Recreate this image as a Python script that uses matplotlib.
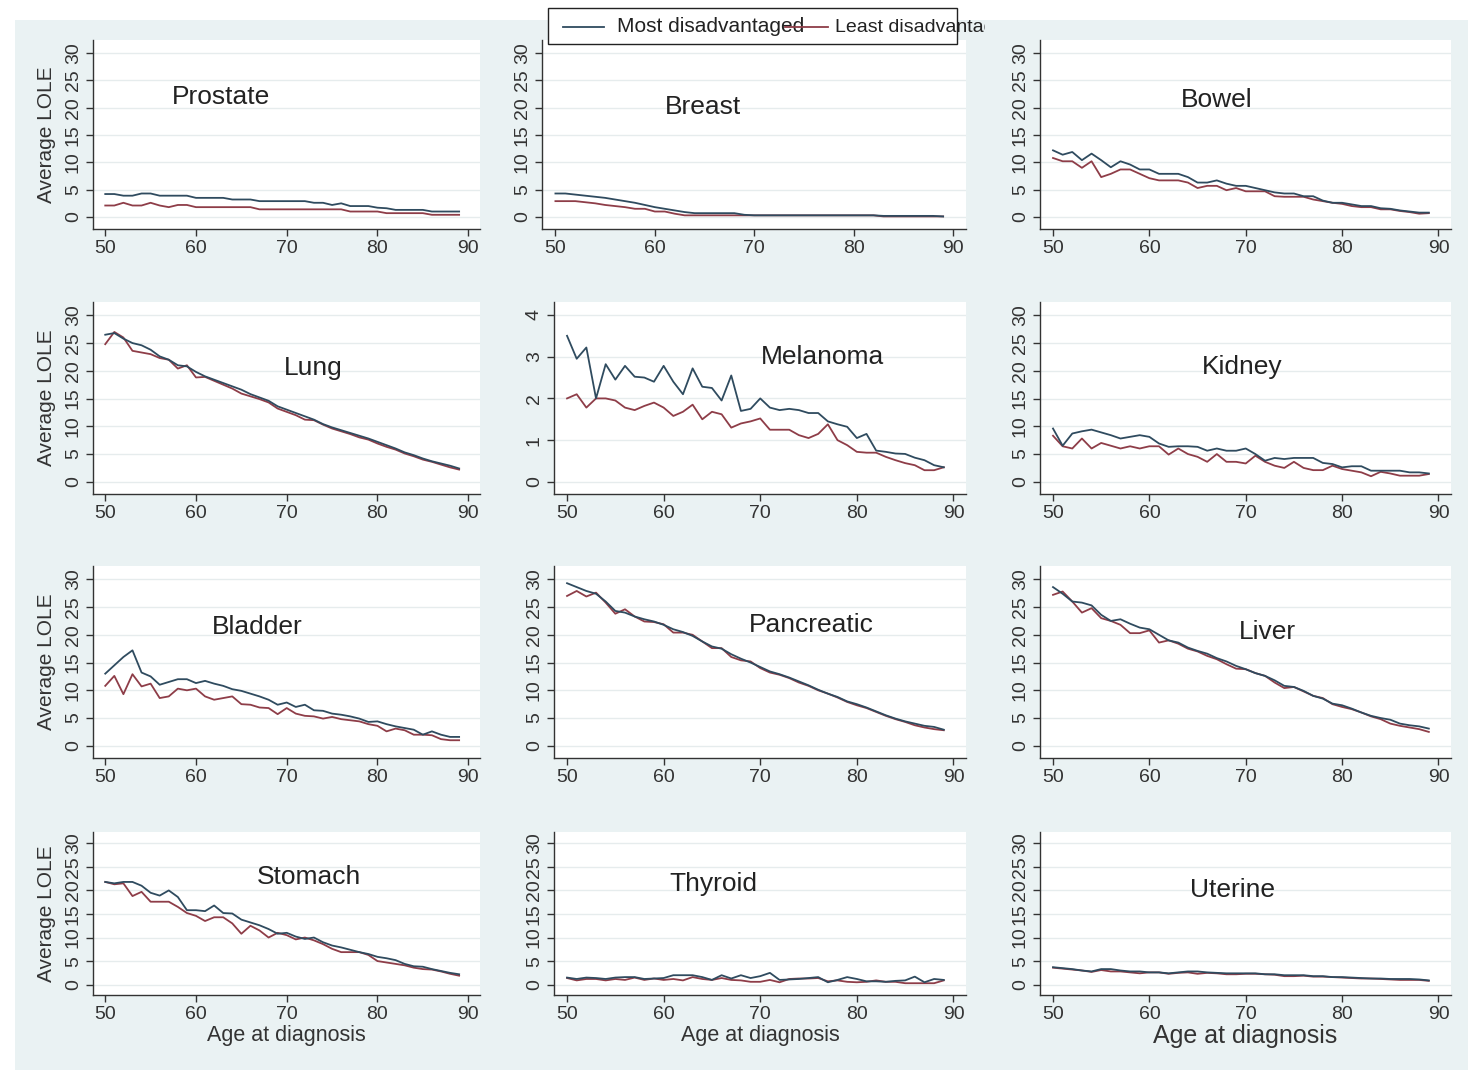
import numpy as np
import matplotlib
matplotlib.use("Agg")
import matplotlib.pyplot as plt
from matplotlib.patches import Rectangle
from matplotlib.lines import Line2D

plt.rcParams['font.family'] = ['Liberation Sans', 'DejaVu Sans']

ages = np.arange(50, 90)

prostate_most = [4.2, 4.2, 3.9, 3.9, 4.3, 4.3, 3.9, 3.9, 3.9, 3.9,
                 3.5, 3.5, 3.5, 3.5, 3.2, 3.2, 3.2, 2.9, 2.9, 2.9,
                 2.9, 2.9, 2.9, 2.6, 2.6, 2.2, 2.5, 2.0, 2.0, 2.0,
                 1.7, 1.6, 1.3, 1.3, 1.3, 1.3, 1.0, 1.0, 1.0, 1.0]
prostate_least = [2.1, 2.1, 2.6, 2.1, 2.1, 2.6, 2.1, 1.8, 2.2, 2.2,
                  1.8, 1.8, 1.8, 1.8, 1.8, 1.8, 1.8, 1.4, 1.4, 1.4,
                  1.4, 1.4, 1.4, 1.4, 1.4, 1.4, 1.4, 1.0, 1.0, 1.0,
                  1.0, 0.7, 0.7, 0.7, 0.7, 0.7, 0.4, 0.4, 0.4, 0.4]

breast_most = [4.3, 4.3, 4.1, 3.9, 3.7, 3.5, 3.2, 2.9, 2.6, 2.2,
               1.8, 1.5, 1.2, 0.9, 0.7, 0.7, 0.7, 0.7, 0.7, 0.4,
               0.3, 0.3, 0.3, 0.3, 0.3, 0.3, 0.3, 0.3, 0.3, 0.3,
               0.3, 0.3, 0.3, 0.2, 0.2, 0.2, 0.2, 0.2, 0.2, 0.1]
breast_least = [2.9, 2.9, 2.9, 2.7, 2.5, 2.2, 2.0, 1.8, 1.5, 1.5,
                1.0, 1.0, 0.6, 0.3, 0.3, 0.3, 0.3, 0.3, 0.3, 0.3,
                0.3, 0.3, 0.3, 0.3, 0.3, 0.3, 0.3, 0.3, 0.3, 0.3,
                0.3, 0.3, 0.3, 0.1, 0.1, 0.1, 0.1, 0.1, 0.1, 0.1]

bowel_most = [12.2, 11.4, 11.9, 10.4, 11.6, 10.4, 9.1, 10.2, 9.6, 8.7,
              8.7, 7.9, 7.9, 7.9, 7.3, 6.3, 6.3, 6.7, 6.1, 5.7,
              5.7, 5.3, 4.9, 4.5, 4.3, 4.3, 3.8, 3.8, 3.0, 2.6,
              2.6, 2.3, 2.0, 2.0, 1.6, 1.5, 1.2, 1.0, 0.8, 0.8]
bowel_least = [10.8, 10.2, 10.2, 9.0, 10.2, 7.3, 7.9, 8.7, 8.7, 7.9,
               7.1, 6.7, 6.7, 6.7, 6.3, 5.3, 5.7, 5.7, 4.9, 5.3,
               4.7, 4.7, 4.7, 3.8, 3.7, 3.7, 3.7, 3.2, 2.9, 2.6,
               2.4, 2.0, 1.8, 1.8, 1.4, 1.4, 1.1, 0.9, 0.6, 0.7]

lung_most = [26.5, 26.8, 25.8, 25.0, 24.6, 23.8, 22.6, 22.0, 21.0, 20.8,
             19.8, 19.0, 18.4, 17.8, 17.2, 16.6, 15.8, 15.2, 14.6, 13.6,
             13.0, 12.4, 11.8, 11.2, 10.4, 9.8, 9.3, 8.8, 8.3, 7.8,
             7.2, 6.6, 6.0, 5.3, 4.8, 4.2, 3.7, 3.3, 2.9, 2.4]
lung_least = [24.8, 27.0, 26.0, 23.6, 23.3, 23.0, 22.3, 22.0, 20.4, 21.0,
              18.8, 18.9, 18.2, 17.5, 16.8, 15.9, 15.4, 14.9, 14.3, 13.2,
              12.6, 12.0, 11.2, 11.1, 10.3, 9.6, 9.1, 8.6, 8.0, 7.6,
              6.9, 6.3, 5.8, 5.1, 4.6, 4.0, 3.6, 3.1, 2.6, 2.2]

melanoma_most = [3.5, 2.95, 3.22, 2.0, 2.82, 2.45, 2.78, 2.52, 2.5, 2.4,
                 2.78, 2.4, 2.1, 2.72, 2.28, 2.25, 1.95, 2.55, 1.7, 1.75,
                 2.0, 1.78, 1.72, 1.75, 1.72, 1.65, 1.65, 1.45, 1.38, 1.32,
                 1.05, 1.15, 0.75, 0.72, 0.68, 0.67, 0.58, 0.52, 0.4, 0.35]
melanoma_least = [2.0, 2.1, 1.78, 2.0, 2.0, 1.95, 1.78, 1.72, 1.82, 1.9,
                  1.78, 1.58, 1.68, 1.85, 1.5, 1.68, 1.62, 1.3, 1.4, 1.45,
                  1.52, 1.25, 1.25, 1.25, 1.12, 1.05, 1.15, 1.38, 1.0, 0.88,
                  0.72, 0.7, 0.7, 0.6, 0.52, 0.45, 0.4, 0.28, 0.28, 0.35]

kidney_most = [9.6, 6.5, 8.7, 9.1, 9.4, 8.9, 8.4, 7.8, 8.1, 8.4,
               8.1, 6.9, 6.3, 6.4, 6.4, 6.3, 5.6, 6.0, 5.6, 5.6,
               6.0, 5.0, 3.8, 4.3, 4.1, 4.3, 4.3, 4.3, 3.4, 3.2,
               2.6, 2.8, 2.8, 2.0, 2.0, 2.0, 2.0, 1.7, 1.7, 1.5]
kidney_least = [8.3, 6.4, 6.0, 7.8, 6.0, 7.0, 6.5, 6.0, 6.4, 6.0,
                6.4, 6.4, 4.9, 6.0, 5.0, 4.5, 3.6, 5.0, 3.6, 3.6,
                3.3, 4.7, 3.6, 2.9, 2.5, 3.6, 2.5, 2.1, 2.1, 2.9,
                2.3, 2.0, 1.7, 1.0, 1.8, 1.5, 1.1, 1.1, 1.1, 1.4]

bladder_most = [13.0, 14.5, 16.0, 17.2, 13.2, 12.5, 11.0, 11.5, 12.0, 12.0,
                11.3, 11.7, 11.2, 10.8, 10.2, 9.9, 9.4, 8.9, 8.3, 7.4,
                7.8, 7.0, 7.4, 6.4, 6.3, 5.8, 5.6, 5.3, 4.9, 4.3,
                4.4, 3.9, 3.5, 3.2, 2.9, 2.0, 2.6, 2.0, 1.6, 1.6]
bladder_least = [10.8, 12.6, 9.3, 12.9, 10.7, 11.2, 8.6, 8.9, 10.3, 10.0,
                 10.3, 8.9, 8.3, 8.6, 8.9, 7.5, 7.4, 6.9, 6.8, 5.7,
                 6.8, 5.8, 5.4, 5.3, 4.9, 5.2, 4.8, 4.6, 4.4, 3.9,
                 3.6, 2.6, 3.1, 2.8, 2.0, 2.0, 1.9, 1.2, 1.0, 1.0]

pancreatic_most = [29.3, 28.6, 27.9, 27.4, 26.0, 24.3, 24.0, 23.3, 22.8, 22.4,
                   21.8, 21.0, 20.5, 19.8, 18.8, 17.9, 17.5, 16.5, 15.7, 15.0,
                   14.2, 13.4, 12.9, 12.3, 11.6, 10.9, 10.1, 9.4, 8.8, 8.0,
                   7.5, 6.9, 6.2, 5.5, 4.9, 4.4, 4.0, 3.6, 3.4, 2.9]
pancreatic_least = [27.0, 27.9, 26.9, 27.6, 25.8, 23.8, 24.6, 23.3, 22.4, 22.3,
                    21.9, 20.4, 20.4, 20.0, 18.8, 17.6, 17.6, 16.0, 15.4, 15.2,
                    14.0, 13.2, 12.8, 12.2, 11.4, 10.8, 10.0, 9.4, 8.7, 7.9,
                    7.3, 6.8, 6.1, 5.4, 4.8, 4.3, 3.7, 3.3, 3.0, 2.8]

liver_most = [28.6, 27.4, 26.0, 25.8, 25.3, 23.6, 22.5, 22.8, 22.0, 21.3,
              21.0, 20.0, 19.0, 18.6, 17.7, 17.1, 16.6, 15.8, 15.2, 14.4,
              13.8, 13.1, 12.6, 11.8, 10.8, 10.6, 9.9, 9.0, 8.5, 7.6,
              7.3, 6.7, 6.0, 5.4, 5.0, 4.7, 4.0, 3.7, 3.5, 3.1]
liver_least = [27.2, 27.8, 26.0, 24.0, 24.8, 23.0, 22.5, 21.8, 20.3, 20.3,
               20.8, 18.6, 19.0, 18.4, 17.5, 17.0, 16.2, 15.6, 14.7, 13.9,
               13.8, 13.1, 12.6, 11.4, 10.4, 10.6, 9.8, 9.0, 8.6, 7.5,
               7.0, 6.6, 6.0, 5.3, 4.8, 4.0, 3.6, 3.3, 3.0, 2.5]

stomach_most = [21.8, 21.5, 21.8, 21.8, 21.0, 19.5, 18.9, 20.0, 18.6, 15.8,
                15.8, 15.6, 16.8, 15.2, 15.1, 13.8, 13.2, 12.6, 11.8, 10.8,
                11.0, 10.2, 9.7, 10.0, 9.0, 8.3, 7.9, 7.4, 6.9, 6.5,
                5.9, 5.6, 5.2, 4.4, 3.9, 3.8, 3.3, 2.9, 2.5, 2.2]
stomach_least = [21.8, 21.3, 21.5, 18.8, 19.7, 17.6, 17.6, 17.6, 16.5, 15.2,
                 14.6, 13.5, 14.3, 14.3, 13.0, 10.8, 12.5, 11.5, 10.0, 11.0,
                 10.5, 9.6, 10.0, 9.4, 8.6, 7.6, 6.9, 6.9, 6.9, 6.3,
                 5.0, 4.7, 4.4, 4.1, 3.6, 3.3, 3.2, 2.8, 2.3, 1.9]

thyroid_most = [1.5, 1.2, 1.5, 1.4, 1.2, 1.5, 1.6, 1.6, 1.2, 1.3,
                1.4, 2.0, 2.0, 2.0, 1.6, 1.0, 2.0, 1.3, 2.0, 1.4,
                1.8, 2.5, 1.0, 1.1, 1.2, 1.4, 1.6, 0.5, 1.0, 1.6,
                1.2, 0.7, 0.7, 0.6, 0.8, 0.9, 1.7, 0.5, 1.2, 1.0]
thyroid_least = [1.4, 0.9, 1.2, 1.2, 0.9, 1.2, 1.0, 1.5, 1.0, 1.3,
                 1.0, 1.2, 0.9, 1.6, 1.2, 1.0, 1.4, 1.0, 0.9, 0.6,
                 0.6, 1.0, 0.5, 1.2, 1.3, 1.3, 1.4, 0.7, 0.9, 0.6,
                 0.5, 0.6, 0.9, 0.6, 0.6, 0.3, 0.3, 0.3, 0.3, 0.9]

uterine_most = [3.7, 3.5, 3.3, 3.0, 2.8, 3.3, 3.3, 3.0, 2.8, 2.8,
                2.6, 2.6, 2.4, 2.6, 2.8, 2.8, 2.6, 2.5, 2.4, 2.4,
                2.4, 2.4, 2.2, 2.2, 2.0, 2.0, 2.0, 1.8, 1.8, 1.6,
                1.6, 1.5, 1.4, 1.3, 1.3, 1.2, 1.2, 1.2, 1.1, 0.9]
uterine_least = [3.6, 3.4, 3.2, 3.0, 2.7, 3.1, 2.8, 2.8, 2.6, 2.4,
                 2.6, 2.6, 2.3, 2.5, 2.6, 2.3, 2.5, 2.4, 2.2, 2.2,
                 2.3, 2.3, 2.2, 2.1, 1.8, 1.8, 1.9, 1.7, 1.7, 1.6,
                 1.5, 1.4, 1.3, 1.3, 1.2, 1.1, 1.0, 1.0, 1.0, 0.8]

cancers = ['Prostate', 'Breast', 'Bowel', 'Lung', 'Melanoma', 'Kidney',
           'Bladder', 'Pancreatic', 'Liver', 'Stomach', 'Thyroid', 'Uterine']
most = [prostate_most, breast_most, bowel_most, lung_most, melanoma_most, kidney_most,
        bladder_most, pancreatic_most, liver_most, stomach_most, thyroid_most, uterine_most]
least = [prostate_least, breast_least, bowel_least, lung_least, melanoma_least, kidney_least,
         bladder_least, pancreatic_least, liver_least, stomach_least, thyroid_least, uterine_least]
# where each panel name sits, in data units
title_pos = [(62.8, 22.0), (64.8, 20.1), (67.0, 21.4),
             (72.9, 20.5), (76.4, 3.0), (69.6, 20.7),
             (66.7, 21.4), (75.3, 21.7), (72.3, 20.5),
             (72.5, 22.9), (65.1, 21.4), (68.6, 20.0)]

W, H = 1479, 1074
c_most = '#2f4b5f'
c_least = '#8e3d48'
bg = '#eaf2f3'

fig = plt.figure(figsize=(W / 100, H / 100), dpi=100)
fig.patch.set_facecolor('white')
fig.patches.append(Rectangle((15 / W, 1 - 1070 / H), (1468 - 15) / W, (1070 - 20) / H,
                             transform=fig.transFigure, facecolor=bg, edgecolor='none', zorder=-5))

cols = [(93, 480), (554, 966), (1040, 1451)]
rows = [(40, 229), (302, 494), (566, 758), (832, 995)]


def box(l, r, t, b):
    return [l / W, 1 - b / H, (r - l) / W, (b - t) / H]


for i, name in enumerate(cancers):
    r, c = divmod(i, 3)
    l, rr = cols[c]
    if name == 'Breast':
        l, rr = 542, 966
    t, b = rows[r]
    ax = fig.add_axes(box(l, rr, t, b))
    ax.set_facecolor('white')
    ax.plot(ages, most[i], color=c_most, lw=1.3, zorder=3)
    ax.plot(ages, least[i], color=c_least, lw=1.3, zorder=2)
    ax.set_xlim(48.65, 91.3)
    ax.set_xticks([50, 60, 70, 80, 90])
    if name == 'Melanoma':
        ax.set_ylim(-0.29, 4.31)
        ax.set_yticks([0, 1, 2, 3, 4])
    else:
        ax.set_ylim(-2.2, 32.4)
        ax.set_yticks([0, 5, 10, 15, 20, 25, 30])
    ax.yaxis.grid(True, color='#e6eced', lw=1)
    ax.set_axisbelow(True)
    for s in ['top', 'right']:
        ax.spines[s].set_visible(False)
    for s in ['left', 'bottom']:
        ax.spines[s].set_color('#333333')
        ax.spines[s].set_linewidth(1)
    ax.tick_params(direction='out', length=5, width=1, color='#333333',
                   labelsize=14, labelcolor='#333333', pad=3)
    for lab in ax.get_yticklabels():
        lab.set_rotation(90)
        lab.set_va('center')
    tx, ty = title_pos[i]
    ax.text(tx, ty, name, ha='center', va='center', fontsize=19, color='#222222')
    if c == 0:
        ax.text(-0.121, 0.5, 'Average LOLE', rotation=90, ha='center', va='center',
                fontsize=15, color='#333333', transform=ax.transAxes)
    if r == 3:
        fs = 18 if c == 2 else 15.5
        ax.text(0.5, -(1036 - b) / (b - t), 'Age at diagnosis', ha='center', va='center',
                fontsize=fs, color='#333333', transform=ax.transAxes)

# legend box at the top, its second label runs past the frame
fig.patches.append(Rectangle((548 / W, 1 - 44 / H), (957 - 548) / W, 36 / H,
                             transform=fig.transFigure, facecolor='white',
                             edgecolor='#222222', lw=1, zorder=5))
ly = 1 - 27 / H
fig.lines.append(Line2D([563 / W, 604 / W], [ly, ly], color=c_most, lw=1.3,
                        transform=fig.transFigure, zorder=6))
fig.text(617 / W, ly, 'Most disadvantaged', fontsize=15, va='center', color='#222222', zorder=6)
fig.lines.append(Line2D([785 / W, 828 / W], [ly, ly], color=c_least, lw=1.3,
                        transform=fig.transFigure, zorder=7))
t2 = fig.text(835 / W, ly, 'Least disadvantaged', fontsize=14, va='center', color='#222222', zorder=6)
clip = Rectangle((0, 0), 985 / W, 1, transform=fig.transFigure)
t2.set_clip_path(clip)
t2.set_clip_on(True)

fig.savefig('out.png', dpi=100, facecolor=fig.get_facecolor())
